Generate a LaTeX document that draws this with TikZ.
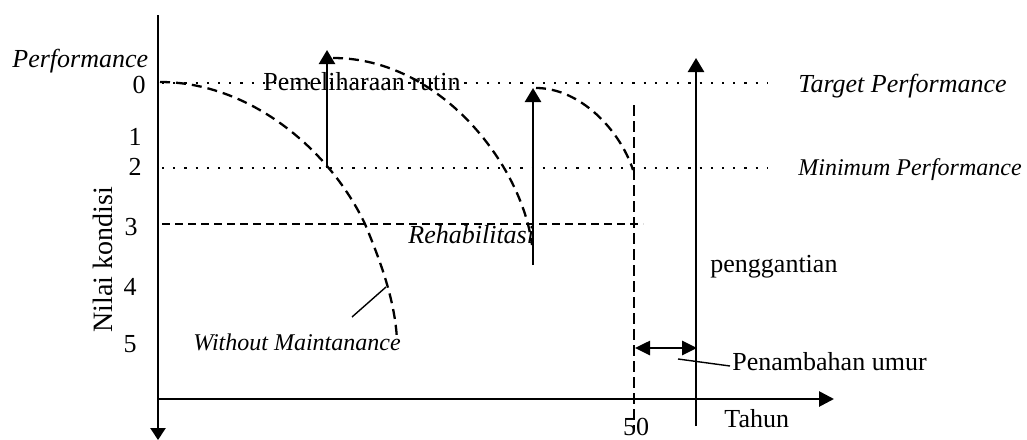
\documentclass[tikz,border=0pt]{standalone}
\usepackage{fontspec}
\setmainfont{Liberation Serif}
\usetikzlibrary{arrows.meta}
\begin{document}
\begin{tikzpicture}[x=0.5pt,y=-0.5pt,
  axis/.style={line width=1.35pt},
  uparr/.style={line width=1.25pt,-{Triangle[length=7pt,width=8pt]}},
  dotln/.style={line width=1.2pt,dash pattern=on 1.1pt off 4.5pt},
  dashln/.style={line width=1.1pt,dash pattern=on 4pt off 2.5pt},
  curv/.style={line width=1.15pt,dash pattern=on 5pt off 3pt},
  vdash/.style={line width=1.15pt,dash pattern=on 5.5pt off 2.5pt},
  leader/.style={line width=0.7pt},
  lbl/.style={inner sep=0pt,font=\fontsize{13}{15}\selectfont},
  lblit/.style={inner sep=0pt,font=\fontsize{13}{15}\selectfont\itshape},
  lblsm/.style={inner sep=0pt,font=\fontsize{12}{14}\selectfont\itshape}]
\useasboundingbox (0,0) rectangle (1027,439);

% coordinates
\coordinate (ytop) at (158,15);
\coordinate (ybot) at (158,440);
\coordinate (xl) at (157,399);
\coordinate (xr) at (834,399);
\coordinate (t0l) at (162,83);
\coordinate (t0r) at (768,83);
\coordinate (t2l) at (162,168);
\coordinate (t2r) at (768,168);
\coordinate (t3l) at (162,224);
\coordinate (t3r) at (643,224);
\coordinate (vdt) at (634,105);
\coordinate (vdb) at (634,430);
\coordinate (a1b) at (327,168);
\coordinate (a1t) at (327,50);
\coordinate (a2b) at (533,265);
\coordinate (a2t) at (533,88);
\coordinate (a3b) at (696,426);
\coordinate (a3t) at (696,58);
\coordinate (c1s) at (160,82);
\coordinate (c1m) at (365,224);
\coordinate (c1e) at (397,340);
\coordinate (c2s) at (333,58);
\coordinate (c2e) at (532,245);
\coordinate (c3s) at (536,88);
\coordinate (c3e) at (633,170);
\coordinate (dl) at (635,348);
\coordinate (dr) at (697,348);
\coordinate (w1) at (352,317);
\coordinate (w2) at (386,287);
\coordinate (p1) at (678,359);
\coordinate (p2) at (730,366);

% axes
\draw[axis,-{Triangle[length=6pt,width=7.5pt]}] (ytop) -- (ybot);
\draw[axis,-{Triangle[length=7.5pt,width=7.5pt]}] (xl) -- (xr);

% reference lines
\draw[dotln] (t0l) -- (t0r);
\draw[dotln] (t2l) -- (t2r);
\draw[dashln] (t3l) -- (t3r);
\draw[vdash] (vdt) -- (vdb);

% curves
\draw[curv] (c1s) .. controls (250,82) and (330,150) .. (c1m)
  .. controls (380,260) and (395,300) .. (c1e);
\draw[curv] (c2s) .. controls (440,58) and (522,165) .. (c2e);
\draw[curv] (c3s) .. controls (580,88) and (620,130) .. (c3e);

% arrows
\draw[uparr] (a1b) -- (a1t);
\draw[uparr] (a2b) -- (a2t);
\draw[uparr] (a3b) -- (a3t);
\draw[line width=1.3pt,{Triangle[length=7.5pt,width=7pt]}-{Triangle[length=7.5pt,width=7pt]}] (dl) -- (dr);

% leaders
\draw[leader] (w1) -- (w2);
\draw[leader] (p1) -- (p2);

% labels
\node[lblit,anchor=base west] (perf) at (12,67) {Performance};
\node[lbl,anchor=base east] (n0) at (146,93) {0};
\node[lbl,anchor=base east] (n1) at (142,145) {1};
\node[lbl,anchor=base east] (n2) at (142,175) {2};
\node[lbl,anchor=base east] (n3) at (138,235) {3};
\node[lbl,anchor=base east] (n4) at (137,295) {4};
\node[lbl,anchor=base east] (n5) at (137,352) {5};
\node[inner sep=0pt,font=\fontsize{14}{16}\selectfont,anchor=base west,rotate=90] (nk) at (112,333) {Nilai kondisi};
\node[lbl,anchor=base west] (pr) at (263,90) {Pemeliharaan rutin};
\node[lblit,anchor=base west] (tp) at (798,92) {Target Performance};
\node[lblsm,anchor=base west] (mp) at (798,175) {Minimum Performance};
\node[lblit,anchor=base west] (rh) at (408,243) {Rehabilitasi};
\node[lbl,anchor=base west] (pg) at (710,272) {penggantian};
\node[lblsm,anchor=base west] (wm) at (193,350) {Without Maintanance};
\node[lbl,anchor=base west] (pu) at (732,370) {Penambahan umur};
\node[lbl,anchor=base west] (th) at (724,427) {Tahun};
\node[lbl,anchor=base] (fifty) at (636,435) {50};
\end{tikzpicture}
\end{document}
